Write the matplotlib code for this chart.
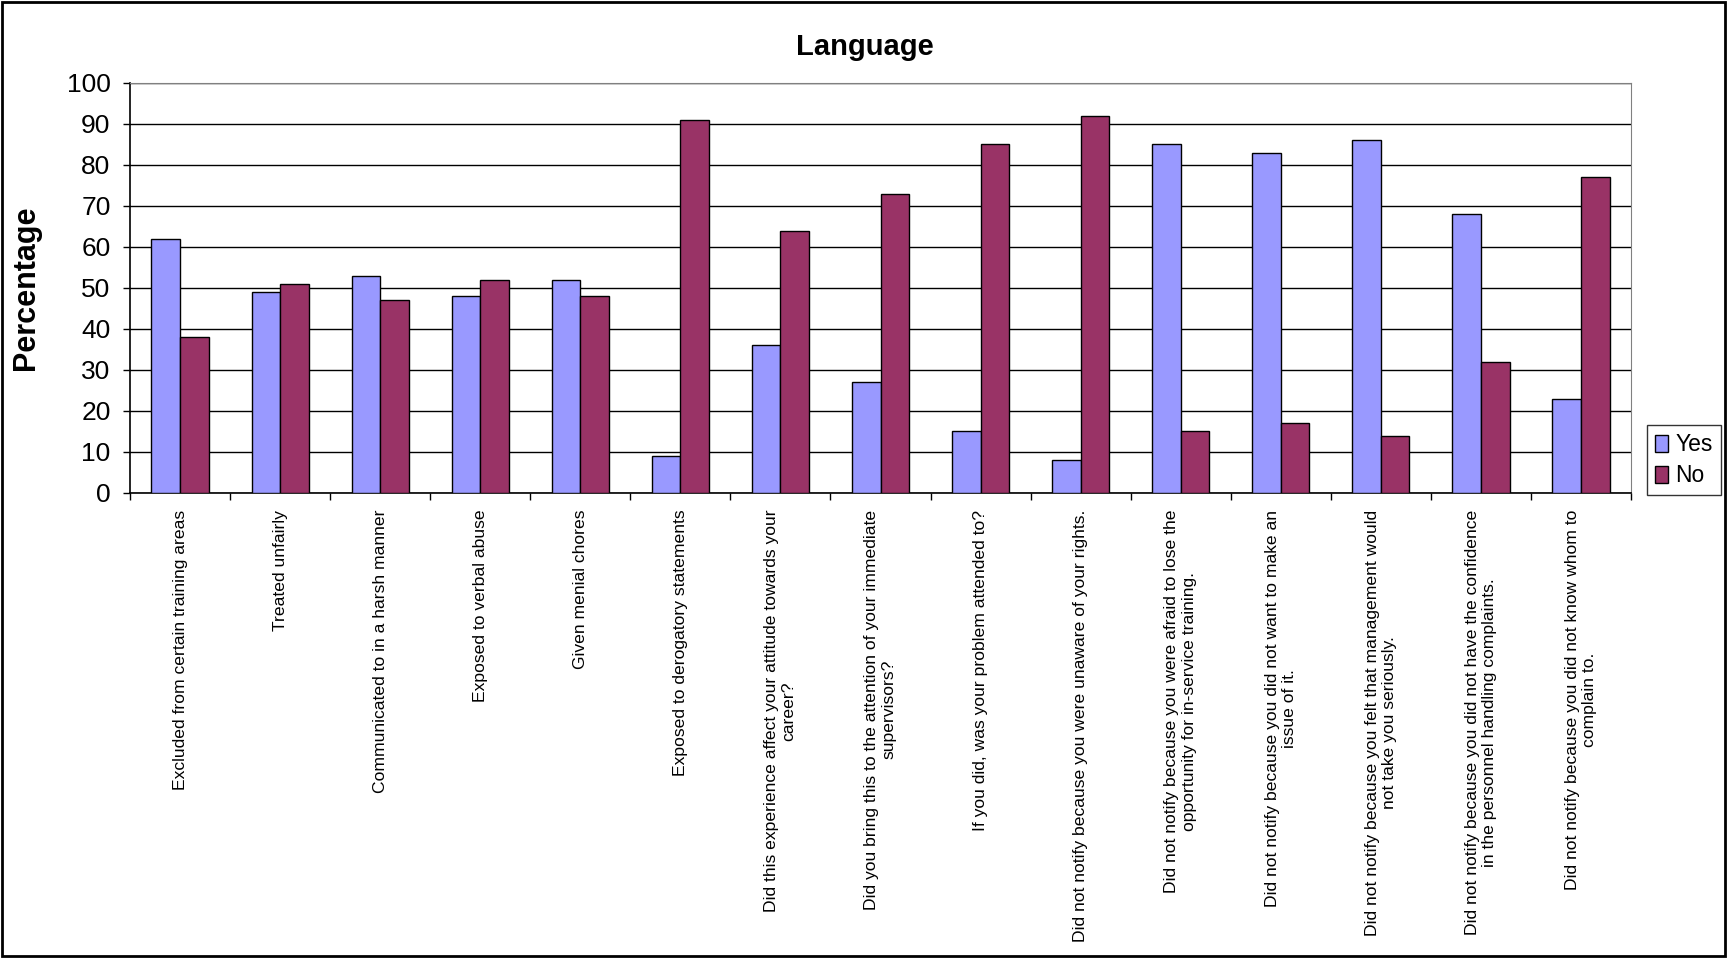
import numpy as np
import matplotlib.pyplot as plt
from matplotlib.patches import Rectangle

categories = [
    'Excluded from certain training areas',
    'Treated unfairly',
    'Communicated to in a harsh manner',
    'Exposed to verbal abuse',
    'Given menial chores',
    'Exposed to derogatory statements',
    'Did this experience affect your attitude towards your\ncareer?',
    'Did you bring this to the attention of your immediate\nsupervisors?',
    'If you did, was your problem attended to?',
    'Did not notify because you were unaware of your rights.',
    'Did not notify because you were afraid to lose the\nopportunity for in-service training.',
    'Did not notify because you did not want to make an\nissue of it.',
    'Did not notify because you felt that management would\nnot take you seriously.',
    'Did not notify because you did not have the confidence\nin the personnel handling complaints.',
    'Did not notify because you did not know whom to\ncomplain to.',
]
yes_vals = [62, 49, 53, 48, 52, 9, 36, 27, 15, 8, 85, 83, 86, 68, 23]
no_vals = [38, 51, 47, 52, 48, 91, 64, 73, 85, 92, 15, 17, 14, 32, 77]
series_names = ['Yes', 'No']
colors = ['#9999FF', '#993366']

plt.rcParams['font.family'] = ['Liberation Sans', 'DejaVu Sans']

fig = plt.figure(figsize=(17.27, 9.58), dpi=100, facecolor='w')
ax = fig.add_axes([0.0753, 0.4854, 0.8691, 0.428])

x = np.arange(len(categories))
w = 0.286
ax.bar(x - w / 2, yes_vals, w, color=colors[0], edgecolor='black', linewidth=1, label=series_names[0], zorder=3)
ax.bar(x + w / 2, no_vals, w, color=colors[1], edgecolor='black', linewidth=1, label=series_names[1], zorder=3)

ax.set_xlim(-0.5, len(categories) - 0.5)
ax.set_ylim(0, 100)
ax.set_yticks(np.arange(0, 101, 10))
ax.yaxis.grid(True, color='black', linewidth=1, zorder=0)
ax.tick_params(axis='y', labelsize=19, length=5, width=1, pad=9, direction='out')

ax.set_xticks(x)
ax.set_xticklabels(categories, rotation=90, fontsize=12.6, ha='center', va='top',
                   multialignment='center')
ax.set_xticks(np.arange(-0.5, len(categories), 1), minor=True)
ax.tick_params(axis='x', which='major', length=0, pad=12)
ax.tick_params(axis='x', which='minor', length=5, width=1, direction='out')

for s in ['top', 'right']:
    ax.spines[s].set_color('#808080')
for s in ['left', 'bottom']:
    ax.spines[s].set_color('black')
    ax.spines[s].set_linewidth(1.2)

fig.text(0.5008, 0.951, 'Language', ha='center', va='center', fontsize=21, fontweight='bold')
fig.text(0.015, 0.7, 'Percentage', ha='center', va='center', rotation=90, fontsize=22, fontweight='bold')

leg = fig.legend(loc='lower left', bbox_to_anchor=(0.9535, 0.483), fontsize=16.5,
                 frameon=True, fancybox=False, handlelength=0.6, handleheight=0.8,
                 handletextpad=0.3, borderpad=0.35, labelspacing=0.35, borderaxespad=0)
leg.get_frame().set_edgecolor('black')
leg.get_frame().set_linewidth(1)

fig.patches.append(Rectangle((0.001, 0.002), 0.998, 0.996, transform=fig.transFigure,
                             fill=False, edgecolor='black', linewidth=2))

plt.savefig('out.png', dpi=100)
